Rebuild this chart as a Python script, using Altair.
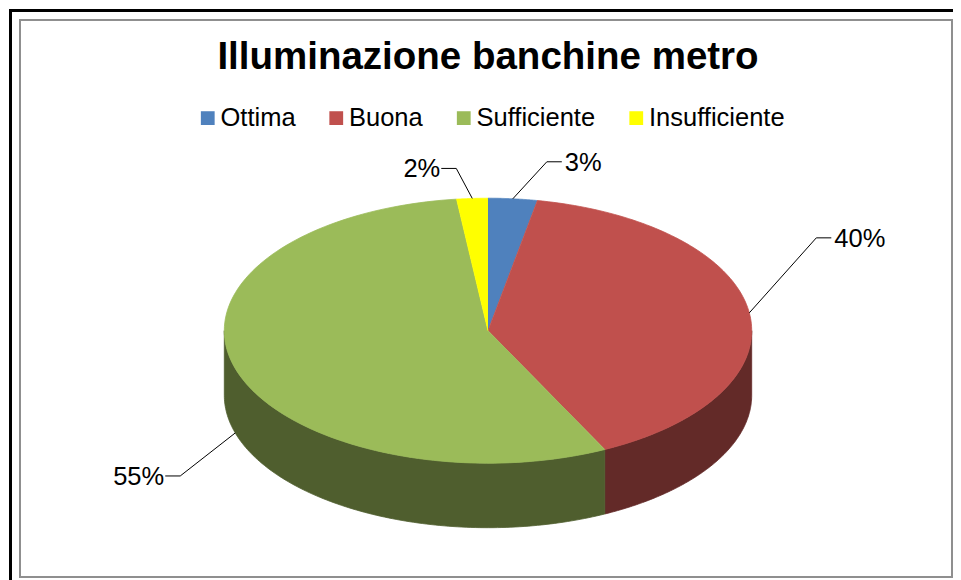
import altair as alt
import numpy as np
import pandas as pd

# ---------------- data ----------------
TITLE = "Illuminazione banchine metro"
categories = ["Ottima", "Buona", "Sufficiente", "Insufficiente"]
values = [3.0, 39.7, 55.4, 1.9]
colors = ["#4F81BD", "#C0504D", "#9BBB59", "#FFFF00"]
side_colors = ["#3A5F8C", "#632A28", "#4F5E2E", "#8C8C00"]

# ---------------- layout (plot px) ----------------
W, H = 945, 572
CX, CY, RX, RY, DEPTH = 480, 322.7, 263.7, 132.5, 64.5
N = 120
label_dx = [34, 67, -55, -16]
label_dy = [-37, -75, 43, -30]
label_dir = [1, 1, -1, -1]

total = sum(values)
ends = np.cumsum(values) / total
starts = ends - np.array(values) / total
slices = pd.DataFrame({
    "cat": categories, "value": values, "start": starts, "end": ends,
    "dark": side_colors, "dx": label_dx, "dy": label_dy, "dir": label_dir,
})

top_df = slices.merge(pd.DataFrame({"k": np.arange(-1, N + 1)}), how="cross")
wall_df = slices.merge(pd.DataFrame({"k": np.arange(0, N + 1)}), how="cross")
lead_df = slices.merge(pd.DataFrame({"pt": [0, 1, 2]}), how="cross")

xs = alt.Scale(domain=[0, W], nice=False, zero=False)
ys = alt.Scale(domain=[0, H], nice=False, zero=False, reverse=True)
cscale = alt.Scale(domain=categories, range=colors)
FONT = "Liberation Sans"

# borders
one = pd.DataFrame({"a": [0]})
outer = alt.Chart(one).mark_rect(fill="white", stroke="black", strokeWidth=3).encode(
    x=alt.value(2.5), x2=alt.value(W + 20), y=alt.value(2.5), y2=alt.value(H + 20))
inner = alt.Chart(one).mark_rect(fill="white", stroke="#8f8f8f", strokeWidth=2).encode(
    x=alt.value(12), x2=alt.value(W - 1), y=alt.value(12), y2=alt.value(569))

# side walls (front half only)
walls = alt.Chart(wall_df).transform_calculate(
    a="max(datum.start, 0.25)", b="min(datum.end, 0.75)"
).transform_filter("datum.a < datum.b").transform_calculate(
    th=f"2*PI*(datum.a + (datum.b - datum.a)*datum.k/{N})"
).transform_calculate(
    px=f"{CX} + {RX}*sin(datum.th)",
    py=f"{CY} - {RY}*cos(datum.th)",
    py2=f"{CY} - {RY}*cos(datum.th) + {DEPTH}",
).mark_area(strokeWidth=0.8).encode(
    x=alt.X("px:Q", scale=xs, axis=None),
    y=alt.Y("py:Q", scale=ys, axis=None),
    y2="py2:Q",
    color=alt.Color("dark:N", scale=None),
    stroke=alt.Stroke("dark:N", scale=None),
    detail="cat:N",
)

# top face sectors
top = alt.Chart(top_df).transform_calculate(
    th=f"2*PI*(datum.start + (datum.end - datum.start)*max(datum.k, 0)/{N})"
).transform_calculate(
    px=f"datum.k < 0 ? {CX} : {CX} + {RX}*sin(datum.th)",
    py=f"datum.k < 0 ? {CY} : {CY} - {RY}*cos(datum.th)",
).mark_line(strokeWidth=0.8).encode(
    x=alt.X("px:Q", scale=xs, axis=None),
    y=alt.Y("py:Q", scale=ys, axis=None),
    fill=alt.Fill("cat:N", scale=cscale, legend=alt.Legend(
        orient="none", legendX=187, legendY=97, direction="horizontal", columns=4,
        title=None, symbolType="square", symbolSize=190, symbolStrokeWidth=0,
        labelFont=FONT, labelFontSize=25.5, labelColor="black", labelOffset=0,
        columnPadding=27.5, padding=0, labelLimit=300)),
    stroke=alt.Stroke("cat:N", scale=cscale, legend=None),
    order=alt.Order("k:Q"),
)

# leader lines
lead = alt.Chart(lead_df).transform_calculate(
    th="PI*(datum.start + datum.end)"
).transform_calculate(
    front="cos(datum.th) < 0 ? 1 : 0"
).transform_calculate(
    ax=f"{CX} + {RX}*sin(datum.th)",
    ay=f"{CY} - {RY}*cos(datum.th) + datum.front*{DEPTH}",
).transform_calculate(
    px="datum.pt == 0 ? datum.ax : datum.ax + datum.dx + (datum.pt == 2 ? datum.dir*15 : 0)",
    py="datum.pt == 0 ? datum.ay : datum.ay + datum.dy",
    label="format(datum.value/100, '.0%')",
)
leaders = lead.mark_line(color="black", strokeWidth=1).encode(
    x=alt.X("px:Q", scale=xs, axis=None),
    y=alt.Y("py:Q", scale=ys, axis=None),
    detail="cat:N",
    order=alt.Order("pt:Q"),
)
lab_r = lead.transform_filter("datum.pt == 2 && datum.dir > 0").mark_text(
    align="left", baseline="middle", font=FONT, fontSize=25.5, color="black", dx=3, dy=1
).encode(x=alt.X("px:Q", scale=xs, axis=None), y=alt.Y("py:Q", scale=ys, axis=None), text="label:N")
lab_l = lead.transform_filter("datum.pt == 2 && datum.dir < 0").mark_text(
    align="right", baseline="middle", font=FONT, fontSize=25.5, color="black", dx=-1, dy=1
).encode(x=alt.X("px:Q", scale=xs, axis=None), y=alt.Y("py:Q", scale=ys, axis=None), text="label:N")

title = alt.Chart(pd.DataFrame({"t": [TITLE]})).mark_text(
    align="center", baseline="middle", font=FONT, fontSize=38.5,
    fontWeight="bold", color="black"
).encode(x=alt.value(480), y=alt.value(49), text="t:N")

chart = alt.layer(outer, inner, walls, top, leaders, lab_r, lab_l, title).resolve_scale(
    color="independent", stroke="independent"
).properties(
    width=W, height=H, padding=0, autosize=alt.AutoSizeParams(type="none")
).configure_view(strokeWidth=0)

chart.save("out.html", embed_options={"renderer": "svg", "actions": False})
